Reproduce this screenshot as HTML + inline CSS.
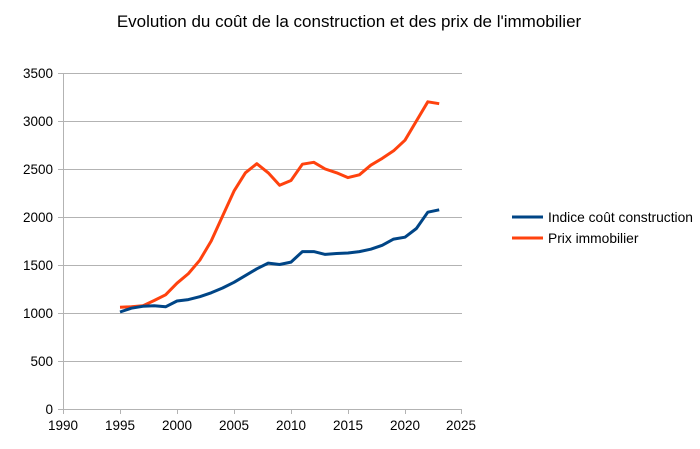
<!DOCTYPE html>
<html><head><meta charset="utf-8"><style>body{margin:0;background:#fff}svg{display:block}</style></head><body>
<svg width="700" height="449" xmlns="http://www.w3.org/2000/svg" font-family="Liberation Sans, sans-serif">
<rect width="700" height="449" fill="#fff"/>
<text x="349" y="27" font-size="17" text-anchor="middle" fill="#000">Evolution du coût de la construction et des prix de l'immobilier</text>
<g stroke="#b3b3b3" stroke-width="1">
<line x1="58" y1="409.5" x2="462" y2="409.5"/>
<line x1="58" y1="361.5" x2="462" y2="361.5"/>
<line x1="58" y1="313.5" x2="462" y2="313.5"/>
<line x1="58" y1="265.5" x2="462" y2="265.5"/>
<line x1="58" y1="217.5" x2="462" y2="217.5"/>
<line x1="58" y1="169.5" x2="462" y2="169.5"/>
<line x1="58" y1="121.5" x2="462" y2="121.5"/>
<line x1="58" y1="73.5" x2="462" y2="73.5"/>
<line x1="63.5" y1="73" x2="63.5" y2="414"/>
<line x1="120.5" y1="409" x2="120.5" y2="414"/>
<line x1="177.5" y1="409" x2="177.5" y2="414"/>
<line x1="234.5" y1="409" x2="234.5" y2="414"/>
<line x1="291.5" y1="409" x2="291.5" y2="414"/>
<line x1="348.5" y1="409" x2="348.5" y2="414"/>
<line x1="405.5" y1="409" x2="405.5" y2="414"/>
<line x1="461.5" y1="409" x2="461.5" y2="414"/>
</g>
<g font-size="13.5" fill="#000" text-anchor="end">
<text x="53" y="414">0</text><text x="53" y="366">500</text><text x="53" y="318">1000</text><text x="53" y="270">1500</text><text x="53" y="222">2000</text><text x="53" y="174">2500</text><text x="53" y="126">3000</text><text x="53" y="78">3500</text>
</g>
<g font-size="13.5" fill="#000" text-anchor="middle">
<text x="63" y="430">1990</text><text x="120" y="430">1995</text><text x="177" y="430">2000</text><text x="234" y="430">2005</text><text x="291" y="430">2010</text><text x="348" y="430">2015</text><text x="405" y="430">2020</text><text x="461" y="430">2025</text>
</g>
<polyline fill="none" stroke="#ff420e" stroke-width="3" stroke-linejoin="round" points="120,307.2 131.4,306.8 142.8,305.8 154.2,300.5 165.6,294.8 177,283.2 188.4,273.6 199.8,260.2 211.2,241 222.6,216 234,191.1 245.4,172.8 256.8,163.7 268.2,172.8 279.6,185.3 291,180.5 302.4,164.2 313.8,162.3 325.2,169 336.6,172.8 348,177.6 359.4,174.8 370.8,165.2 382.2,158.4 393.6,150.8 405,140.2 416.4,121 427.8,101.8 439.2,103.7"/>
<polyline fill="none" stroke="#004586" stroke-width="3" stroke-linejoin="round" points="120,312 131.4,308.2 142.8,306.3 154.2,305.8 165.6,306.8 177,301 188.4,299.6 199.8,296.7 211.2,292.8 222.6,288 234,282.3 245.4,275.6 256.8,268.8 268.2,263.1 279.6,264.5 291,262.1 302.4,251.6 313.8,251.6 325.2,254.4 336.6,253.5 348,253 359.4,251.6 370.8,249.2 382.2,245.3 393.6,239.1 405,237.2 416.4,228.5 427.8,212.2 439.2,209.8"/>
<line x1="512" y1="217" x2="543" y2="217" stroke="#004586" stroke-width="3"/>
<text x="548" y="222" font-size="13.8" fill="#000">Indice coût construction</text>
<line x1="512" y1="238" x2="543" y2="238" stroke="#ff420e" stroke-width="3"/>
<text x="548" y="243" font-size="13.8" fill="#000">Prix immobilier</text>
</svg>
</body></html>
